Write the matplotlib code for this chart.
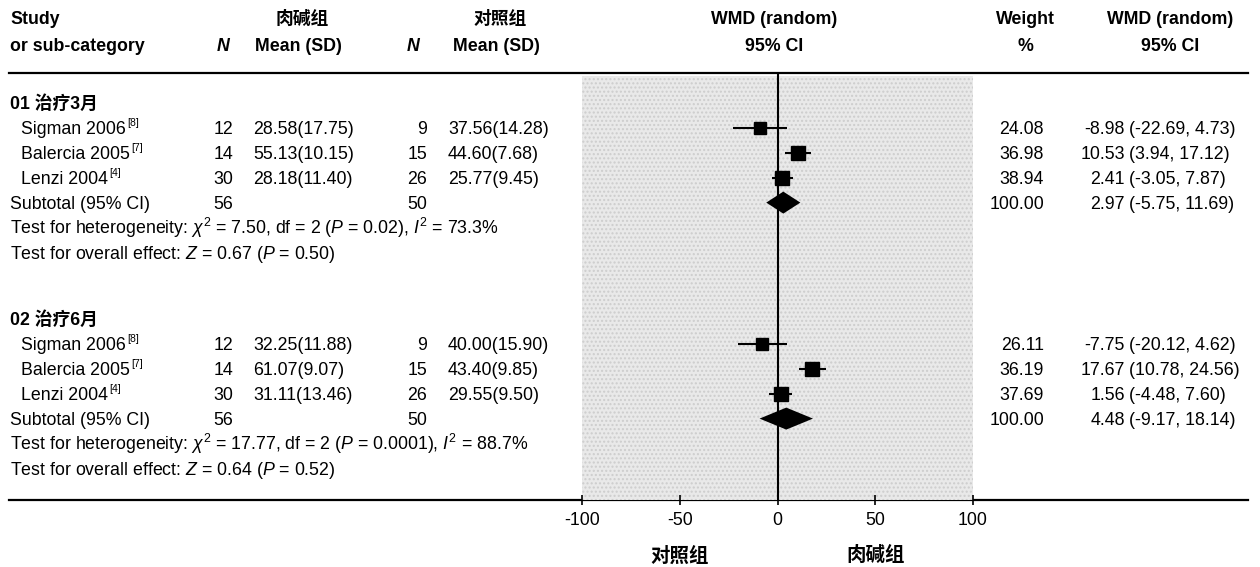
import matplotlib
matplotlib.use("Agg")
import matplotlib.pyplot as plt
from matplotlib import font_manager

names = {f.name for f in font_manager.fontManager.ttflist}
LATIN = "Liberation Sans" if "Liberation Sans" in names else "DejaVu Sans"
CJK = "Noto Sans CJK SC"
plt.rcParams["font.family"] = [LATIN, CJK, "DejaVu Sans"]
plt.rcParams["mathtext.fontset"] = "custom"
plt.rcParams["mathtext.rm"] = LATIN
plt.rcParams["mathtext.it"] = LATIN + ":italic"
plt.rcParams["mathtext.bf"] = LATIN + ":bold"

# ---- data ----
groups = ["01 治疗3月", "02 治疗6月"]
studies = ["Sigman 2006", "Balercia 2005", "Lenzi 2004"]
refs = ["8", "7", "4"]

trt_n = [12, 14, 30]
ctl_n = [9, 15, 26]
trt_total, ctl_total = 56, 50

trt_mean_3m = [28.58, 55.13, 28.18]
trt_sd_3m = [17.75, 10.15, 11.40]
ctl_mean_3m = [37.56, 44.60, 25.77]
ctl_sd_3m = [14.28, 7.68, 9.45]
weight_3m = [24.08, 36.98, 38.94]
wmd_3m = [-8.98, 10.53, 2.41]
lo_3m = [-22.69, 3.94, -3.05]
hi_3m = [4.73, 17.12, 7.87]
sub_3m = (2.97, -5.75, 11.69)
het_3m = ("7.50", "2", "0.02", "73.3")
eff_3m = ("0.67", "0.50")

trt_mean_6m = [32.25, 61.07, 31.11]
trt_sd_6m = [11.88, 9.07, 13.46]
ctl_mean_6m = [40.00, 43.40, 29.55]
ctl_sd_6m = [15.90, 9.85, 9.50]
weight_6m = [26.11, 36.19, 37.69]
wmd_6m = [-7.75, 17.67, 1.56]
lo_6m = [-20.12, 10.78, -4.48]
hi_6m = [4.62, 24.56, 7.60]
sub_6m = (4.48, -9.17, 18.14)
het_6m = ("17.77", "2", "0.0001", "88.7")
eff_6m = ("0.64", "0.52")

xticks = [-100, -50, 0, 50, 100]
favours = ["对照组", "肉碱组"]

# ---- layout (pixels) ----
W, H = 1260, 567
FS = 12.8
BASE = 6.4          # baseline offset below row centre
G_TOP = [103, 319]
STEP = 24.9
X_STUDY, X_NAME = 10, 21
X_N1, X_M1 = 233, 253
X_N2, X_M2 = 427, 448
X_W, X_EST, X_CI = 1044, 1125, 1129
PLOT_L, PLOT_R, LINE_TOP, LINE_BOT = 582, 973, 73, 500

fig = plt.figure(figsize=(W / 100, H / 100), dpi=100)
bg = fig.add_axes([0, 0, 1, 1])
bg.set_xlim(0, W); bg.set_ylim(H, 0); bg.axis("off")


def put(x, y, s, ha="left", bold=False, italic=False, size=FS):
    return bg.text(x, y + BASE, s, ha=ha, va="baseline", fontsize=size,
                   fontweight="bold" if bold else "normal",
                   fontstyle="italic" if italic else "normal")


# header
put(X_STUDY, 18, "Study", bold=True)
put(X_STUDY, 45, "or sub-category", bold=True)
put(223, 45, "N", ha="center", bold=True, italic=True)
put(413, 45, "N", ha="center", bold=True, italic=True)
put(302, 18, favours[1], ha="center", bold=True)
put(298, 45, "Mean (SD)", ha="center", bold=True)
put(500, 18, favours[0], ha="center", bold=True)
put(496, 45, "Mean (SD)", ha="center", bold=True)
put(774, 18, "WMD (random)", ha="center", bold=True)
put(774, 45, "95% CI", ha="center", bold=True)
put(1025, 18, "Weight", ha="center", bold=True)
put(1025, 45, "%", ha="center", bold=True)
put(1170, 18, "WMD (random)", ha="center", bold=True)
put(1170, 45, "95% CI", ha="center", bold=True)

bg.plot([9, 1248], [LINE_TOP, LINE_TOP], color="black", lw=1.6)
bg.plot([9, 1248], [LINE_BOT, LINE_BOT], color="black", lw=1.6)

# forest panel
fp = fig.add_axes([PLOT_L / W, 1 - LINE_BOT / H, (PLOT_R - PLOT_L) / W,
                   (LINE_BOT - LINE_TOP) / H])
fp.set_xlim(-100, 100); fp.set_ylim(LINE_BOT, LINE_TOP)
fp.patch.set_visible(False)
for sp in fp.spines.values():
    sp.set_visible(False)
fp.fill_between([-100, 100], LINE_TOP + 3, LINE_BOT, color="#e9e9e9",
                hatch="....", edgecolor="#cdcdcd", lw=0, zorder=0)
fp.axvline(0, color="black", lw=1.5, zorder=2)
fp.set_yticks([])
fp.set_xticks(xticks)
fp.set_xticklabels([str(t) for t in xticks], fontsize=FS)
fp.tick_params(axis="x", direction="inout", length=7, width=1.2, pad=5)
fp.text(-50, 555 + BASE, favours[0], ha="center", va="baseline",
        fontsize=14, fontweight="bold", clip_on=False)
fp.text(50, 555 + BASE, favours[1], ha="center", va="baseline",
        fontsize=14, fontweight="bold", clip_on=False)

sets = [
    (trt_mean_3m, trt_sd_3m, ctl_mean_3m, ctl_sd_3m, weight_3m, wmd_3m,
     lo_3m, hi_3m, sub_3m, het_3m, eff_3m),
    (trt_mean_6m, trt_sd_6m, ctl_mean_6m, ctl_sd_6m, weight_6m, wmd_6m,
     lo_6m, hi_6m, sub_6m, het_6m, eff_6m),
]

for g, (tm, ts, cm, cs, wt, est, lo, hi, sub, het, eff) in enumerate(sets):
    y0 = G_TOP[g]
    put(X_STUDY, y0, groups[g], bold=True)
    for i in range(3):
        y = y0 + STEP * (i + 1)
        name = put(X_NAME, y, studies[i])
        # small reference superscript right after the study name
        bg.annotate(f"[{refs[i]}]", xy=(1.0, 0.62), xycoords=name,
                    xytext=(1, 0), textcoords="offset points",
                    ha="left", va="bottom", fontsize=7.5)
        put(X_N1, y, str(trt_n[i]), ha="right")
        put(X_M1, y, f"{tm[i]:.2f}({ts[i]:.2f})")
        put(X_N2, y, str(ctl_n[i]), ha="right")
        put(X_M2, y, f"{cm[i]:.2f}({cs[i]:.2f})")
        put(X_W, y, f"{wt[i]:.2f}", ha="right")
        put(X_EST, y, f"{est[i]:.2f}", ha="right")
        put(X_CI, y, f"({lo[i]:.2f}, {hi[i]:.2f})")
        fp.hlines(y, lo[i], hi[i], color="black", lw=1.5, zorder=3)
        fp.plot(est[i], y, "s", color="black",
                ms=2.3 * wt[i] ** 0.5 * 0.72, zorder=4)
    y = y0 + STEP * 4
    put(X_STUDY, y, "Subtotal (95% CI)")
    put(X_N1, y, str(trt_total), ha="right")
    put(X_N2, y, str(ctl_total), ha="right")
    put(X_W, y, "100.00", ha="right")
    put(X_EST, y, f"{sub[0]:.2f}", ha="right")
    put(X_CI, y, f"({sub[1]:.2f}, {sub[2]:.2f})")
    fp.fill([sub[1], sub[0], sub[2], sub[0]], [y, y - 11, y, y + 11],
            color="black", lw=0, zorder=4)
    put(X_STUDY, y0 + STEP * 5,
        f"Test for heterogeneity: $\\chi^2$ = {het[0]}, df = {het[1]} "
        f"($P$ = {het[2]}), $I^2$ = {het[3]}%")
    put(X_STUDY, y0 + STEP * 6,
        f"Test for overall effect: $Z$ = {eff[0]} ($P$ = {eff[1]})")

fig.savefig("out.png", dpi=100)
